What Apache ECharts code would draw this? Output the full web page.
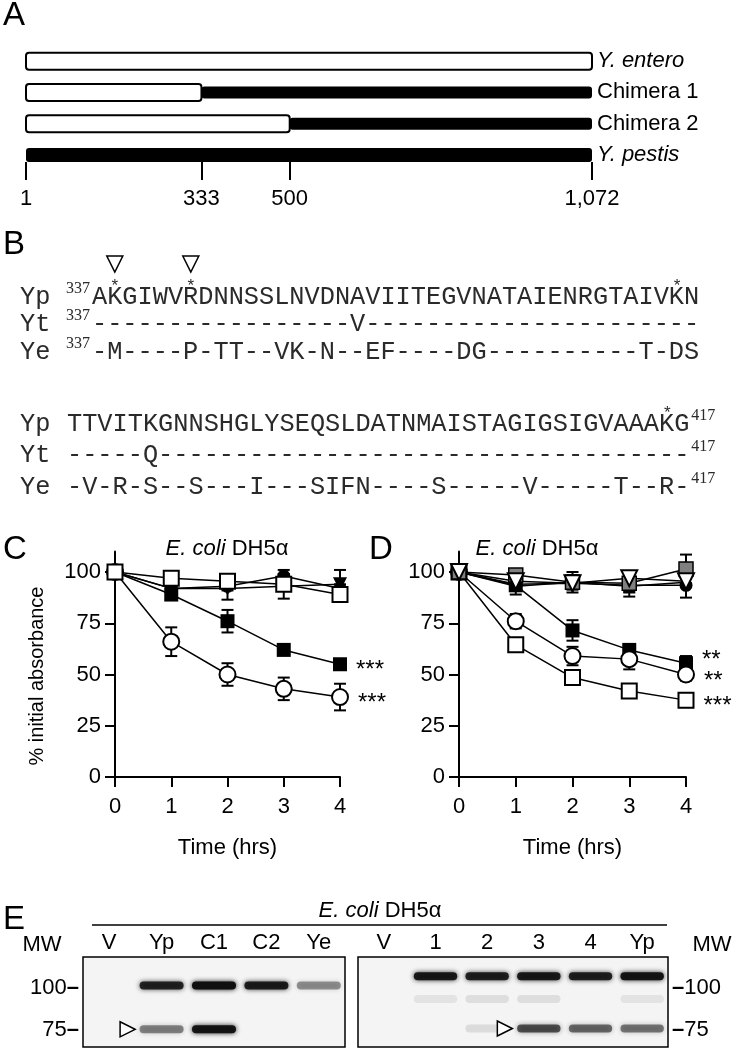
<!DOCTYPE html>
<html>
<head>
<meta charset="utf-8">
<script src="https://cdn.jsdelivr.net/npm/echarts@6/dist/echarts.min.js"></script>
<style>
html, body { margin: 0; padding: 0; background: #fff; }
#main { width: 738px; height: 1050px; }
</style>
</head>
<body>
<div id="main"></div>
<script>
// ---------- A: construct map ----------
var constructs = ['Y. entero', 'Chimera 1', 'Chimera 2', 'Y. pestis'];
var italicNames = ['Y. entero', 'Y. pestis'];
// [construct, first residue, last residue, origin]  origin 0 = Y. entero, 1 = Y. pestis
var segments = [
    ['Y. entero', 1, 1072, 0],
    ['Chimera 1', 333, 1072, 1],
    ['Chimera 1', 1, 333, 0],
    ['Chimera 2', 500, 1072, 1],
    ['Chimera 2', 1, 500, 0],
    ['Y. pestis', 1, 1072, 1]
];
var residueTicks = [1, 333, 500, 1072];

// ---------- B: alignment ----------
var seqNames = ['Yp', 'Yt', 'Ye'];
var block1 = [
    'AKGIWVRDNNSSLNVDNAVIITEGVNATAIENRGTAIVKN',
    '-----------------V----------------------',
    '-M----P-TT--VK-N--EF----DG----------T-DS'
];
var block2 = [
    'TTVITKGNNSHGLYSEQSLDATNMAISTAGIGSIGVAAAKG',
    '-----Q-----------------------------------',
    '-V-R-S--S---I---SIFN----S-----V-----T--R-'
];
var block1Start = 337;
var block2End = 417;
var starsBlock1 = [1, 6, 38];
var starsBlock2 = [39];
var arrowsBlock1 = [1, 6];

// ---------- C / D: absorbance ----------
var hours = [0, 1, 2, 3, 4];
var yTicks = [0, 25, 50, 75, 100];

var cOpenCircle = [100, 66, 50, 43, 39];
var cOpenCircleSem = [0, 7, 5.5, 5.5, 6.5];
var cFilledSquare = [100, 89, 76, 62, 55];
var cFilledSquareSem = [0, 2, 5.5, 1.5, 1.5];
var cOpenSquare = [100, 97, 95.5, 94, 89];
var cOpenSquareSem = [0, 1.5, 1.5, 7, 3];
var cFilledCircle = [100, 92, 93, 98, 92];
var cFilledCircleSem = [0, 1, 2, 1, 2];
var cFilledTriangle = [100, 92, 92, 93, 94];
var cFilledTriangleSem = [0, 2, 5.5, 2, 7];

var dOpenSquare = [100, 64.5, 48.5, 42, 37.5];
var dOpenSquareSem = [0, 1, 1, 1, 1];
var dOpenCircle = [100, 76, 59, 57.5, 50];
var dOpenCircleSem = [0, 3.5, 4.5, 5, 3];
var dFilledSquare = [100, 93.5, 71.5, 62, 55.5];
var dFilledSquareSem = [0, 2, 5, 1.5, 3.5];
var dGraySquare = [100, 98.5, 95, 94.5, 101.5];
var dGraySquareSem = [0, 1.5, 3.5, 4, 7];
var dOpenTriangle = [100, 95.5, 94.5, 97, 95.5];
var dOpenTriangleSem = [0, 2, 2, 3.5, 2];
var dFilledCircle = [100, 94, 94.5, 93.5, 93.5];
var dFilledCircleSem = [0, 2, 3, 5.5, 6];
var dFilledTriangle = [100, 93, 95, 93, 95];
var dFilledTriangleSem = [0, 4, 5, 3, 2];

// ---------- E: western blot ----------
var lanesLeft = ['V', 'Yp', 'C1', 'C2', 'Ye'];
var lanesRight = ['V', '1', '2', '3', '4', 'Yp'];
var mwMarkers = [75, 100];
// [lane, apparent kDa, intensity 0-1]
var bandsLeft = [
    ['Yp', 101.5, 0.85], ['C1', 101.5, 1.0], ['C2', 101.5, 0.9], ['Ye', 101.5, 0.4],
    ['Yp', 75.5, 0.45], ['C1', 75.5, 0.95]
];
var bandsRight = [
    ['1', 107, 0.92], ['2', 107, 0.88], ['3', 107, 0.92], ['4', 107, 0.88], ['Yp', 107, 0.95],
    ['1', 93.5, 0.07], ['2', 93.5, 0.09], ['3', 93.5, 0.09], ['Yp', 93.5, 0.07],
    ['2', 76, 0.1], ['3', 76, 0.65], ['4', 76, 0.55], ['Yp', 76, 0.5]
];
var arrowLeft = [['Yp', 75.5]];
var arrowRight = [['3', 76]];

var FONT = '"Liberation Sans", Arial, sans-serif';
var MONO = '"Liberation Mono", monospace';

var markers = {
    openCircle:     { symbol: 'circle',   size: 16, fill: '#fff', border: 2, rot: 0 },
    filledSquare:   { symbol: 'rect',     size: 14, fill: '#000', border: 0, rot: 0 },
    openSquare:     { symbol: 'rect',     size: 15, fill: '#fff', border: 2, rot: 0 },
    filledCircle:   { symbol: 'circle',   size: 13, fill: '#000', border: 0, rot: 0 },
    filledTriangle: { symbol: 'triangle', size: 14, fill: '#000', border: 0, rot: 180 },
    graySquare:     { symbol: 'rect',     size: 14, fill: '#808080', border: 1.5, rot: 0 },
    openTriangle:   { symbol: 'triangle', size: 16, fill: '#fff', border: 2, rot: 180 }
};

function lineSeries(grid, vals, mk, sig, sigDy) {
    var m = markers[mk];
    var data = hours.map(function (h, i) {
        var item = { value: [h, vals[i]] };
        if (sig && i === hours.length - 1) {
            item.label = {
                show: true, position: 'right', distance: 9, formatter: sig,
                fontSize: 24, color: '#000', fontFamily: FONT, offset: [0, sigDy === undefined ? 6 : sigDy]
            };
        }
        return item;
    });
    return {
        type: 'line', xAxisIndex: grid, yAxisIndex: grid, data: data,
        symbol: m.symbol, symbolSize: m.size, symbolRotate: m.rot,
        showAllSymbols: true, clip: false, silent: true, z: 3,
        lineStyle: { color: '#000', width: 1.5 },
        itemStyle: { color: m.fill, borderColor: '#000', borderWidth: m.border, opacity: 1 }
    };
}

function errData(list) {
    var out = [];
    list.forEach(function (p) {
        hours.forEach(function (h, i) { out.push([h, p[0][i], p[1][i]]); });
    });
    return out;
}

function renderErr(params, api) {
    var e = api.value(2);
    if (!e) return null;
    var x = api.value(0), v = api.value(1);
    var t = api.coord([x, v + e]);
    var b = api.coord([x, v - e]);
    var s = { stroke: '#000', lineWidth: 2 };
    return {
        type: 'group', children: [
            { type: 'line', shape: { x1: t[0], y1: t[1], x2: b[0], y2: b[1] }, style: s },
            { type: 'line', shape: { x1: t[0] - 6, y1: t[1], x2: t[0] + 6, y2: t[1] }, style: s },
            { type: 'line', shape: { x1: b[0] - 6, y1: b[1], x2: b[0] + 6, y2: b[1] }, style: s }
        ]
    };
}

function renderSegment(params, api) {
    var row = api.value(0);
    var from = api.value(1), to = api.value(2), origin = api.value(3);
    var a = api.coord([from, row]);
    var b = api.coord([to, row]);
    var h = origin === 0 ? 17 : (from > 1 ? 12 : 14);
    return {
        type: 'rect', z2: origin === 0 ? 2 : 1,
        shape: { x: a[0], y: a[1] - h / 2, width: b[0] - a[0], height: h, r: 3 },
        style: origin === 0 ? { fill: '#fff', stroke: '#000', lineWidth: 2 } : { fill: '#000' }
    };
}

function renderBand(params, api) {
    var p = api.coord([api.value(0), api.value(1)]);
    var w = api.size([1, 0])[0] * 0.84;
    var k = api.value(2);
    var c = 'rgba(15,15,15,' + k + ')';
    return {
        type: 'rect',
        shape: { x: p[0] - w / 2, y: p[1] - 4, width: w, height: 8, r: 4 },
        style: { fill: c, shadowBlur: 5, shadowColor: c }
    };
}

// ---------- free text ----------
var graphics = [];
function txt(x, y, text, style, extra) {
    graphics.push(Object.assign({
        type: 'text', x: x, y: y, silent: true, z: 10,
        style: Object.assign({ text: text, fill: '#000', font: '22px ' + FONT, align: 'left', verticalAlign: 'middle' }, style || {})
    }, extra || {}));
}
var italicRich = { it: { fontStyle: 'italic', fontSize: 22, fontFamily: FONT } };
var letterFont = '33px ' + FONT;

txt(3, 16, 'A', { font: letterFont });
txt(3, 245, 'B', { font: letterFont });
txt(3, 550, 'C', { font: letterFont });
txt(369, 550, 'D', { font: letterFont });
txt(3, 920, 'E', { font: letterFont });

txt(227, 549, '{it|E. coli} DH5\u03b1', { align: 'center', rich: italicRich });
txt(537, 549, '{it|E. coli} DH5\u03b1', { align: 'center', rich: italicRich });
txt(380, 911, '{it|E. coli} DH5\u03b1', { align: 'center', rich: italicRich });
graphics.push({ type: 'line', silent: true, shape: { x1: 92, y1: 925, x2: 667, y2: 925 }, style: { stroke: '#000', lineWidth: 1.5 } });
txt(42, 945, 'MW', { align: 'center' });
txt(712, 945, 'MW', { align: 'center' });
txt(37, 676, '% initial absorbance', { align: 'center', font: '20px ' + FONT }, { rotation: Math.PI / 2 });

// alignment text
var charW = 15.2;
var monoFont = '25.3px ' + MONO;
var supFont = '16px "Liberation Serif", serif';
var seqColor = '#2a2a2a';
var rowsY1 = [297, 324, 352];
var rowsY2 = [424, 455, 487];
var seq1X = 92, seq2X = 67;
seqNames.forEach(function (n, i) {
    txt(20, rowsY1[i], n, { font: monoFont, fill: seqColor });
    txt(66, rowsY1[i] - 8, String(block1Start), { font: supFont, fill: seqColor });
    txt(seq1X, rowsY1[i], block1[i], { font: monoFont, fill: seqColor });
    txt(20, rowsY2[i], n, { font: monoFont, fill: seqColor });
    txt(seq2X, rowsY2[i], block2[i], { font: monoFont, fill: seqColor });
    txt(seq2X + block2[i].length * charW + 1, rowsY2[i] - 8, String(block2End), { font: supFont, fill: seqColor });
});
starsBlock1.forEach(function (k) {
    txt(seq1X + (k + 0.5) * charW, rowsY1[0] - 11, '*', { font: '17px ' + MONO, align: 'center', fill: seqColor });
});
starsBlock2.forEach(function (k) {
    txt(seq2X + (k + 0.5) * charW, rowsY2[0] - 11, '*', { font: '17px ' + MONO, align: 'center', fill: seqColor });
});
arrowsBlock1.forEach(function (k) {
    var cx = seq1X + (k + 0.5) * charW;
    graphics.push({
        type: 'polygon', silent: true,
        shape: { points: [[cx - 8, 256], [cx + 8, 256], [cx, 272]] },
        style: { fill: '#fff', stroke: '#000', lineWidth: 1.5 }
    });
});

// ---------- chart ----------
var axisBlack = { color: '#000', width: 2 };
var tickFont = { fontSize: 22, color: '#000', fontFamily: FONT };

function absYAxis(grid) {
    return {
        gridIndex: grid, type: 'value', min: 0, max: 110,
        axisLine: { show: true, lineStyle: axisBlack },
        axisTick: { show: true, customValues: yTicks, length: 10, lineStyle: axisBlack },
        axisLabel: Object.assign({ customValues: yTicks, margin: 14 }, tickFont),
        splitLine: { show: false }
    };
}
function timeXAxis(grid) {
    return {
        gridIndex: grid, type: 'value', min: 0, max: 4, interval: 1,
        axisLine: { onZero: false, lineStyle: axisBlack },
        axisTick: { length: 10, lineStyle: axisBlack },
        axisLabel: Object.assign({ margin: 19 }, tickFont),
        splitLine: { show: false },
        name: 'Time (hrs)', nameLocation: 'middle', nameGap: 60,
        nameTextStyle: { fontSize: 22, color: '#000', fontFamily: FONT }
    };
}
function blotYAxis(grid, side) {
    return {
        gridIndex: grid, type: 'value', min: 65, max: 118.5, position: side,
        axisLine: { show: false }, axisTick: { show: false }, splitLine: { show: false },
        axisLabel: Object.assign({
            customValues: mwMarkers, margin: 4,
            formatter: function (v) { return side === 'left' ? v + '{d|\u2013}' : '{d|\u2013}' + v; },
            rich: { d: { fontSize: 22, fontWeight: 'bold', fontFamily: FONT } }
        }, tickFont)
    };
}
function blotXAxis(grid, lanes) {
    return {
        gridIndex: grid, type: 'category', data: lanes, position: 'top',
        axisLine: { show: false }, axisTick: { show: false },
        axisLabel: Object.assign({ margin: 3, interval: 0 }, tickFont)
    };
}
function arrowSeries(grid, pts) {
    return {
        type: 'scatter', xAxisIndex: grid, yAxisIndex: grid, data: pts, silent: true, z: 5,
        symbol: 'triangle', symbolRotate: -90, symbolSize: 15, symbolOffset: [-34, 0],
        itemStyle: { color: '#fff', borderColor: '#000', borderWidth: 1.5, opacity: 1 }
    };
}

var gridBase = { containLabel: false, outerBoundsMode: 'none' };

var option = {
    animation: false,
    backgroundColor: '#fff',
    textStyle: { fontFamily: FONT },
    grid: [
        Object.assign({ left: 26, top: 45.5, width: 566, height: 125 }, gridBase),
        Object.assign({ left: 115, top: 551.5, width: 225, height: 225.5 }, gridBase),
        Object.assign({ left: 459, top: 551.5, width: 227, height: 225.5 }, gridBase),
        Object.assign({ left: 83, top: 957, width: 262, height: 90, show: true, backgroundColor: '#f4f4f4', borderColor: '#000', borderWidth: 1.5 }, gridBase),
        Object.assign({ left: 358, top: 957, width: 310, height: 90, show: true, backgroundColor: '#f4f4f4', borderColor: '#000', borderWidth: 1.5 }, gridBase)
    ],
    xAxis: [
        {
            gridIndex: 0, type: 'value', min: 1, max: 1072, offset: -8.5,
            axisLine: { show: false }, splitLine: { show: false },
            axisTick: { show: true, customValues: residueTicks, length: 18, lineStyle: axisBlack },
            axisLabel: Object.assign({
                customValues: residueTicks, margin: 26,
                formatter: function (v) { return v.toLocaleString('en-US'); }
            }, tickFont)
        },
        timeXAxis(1),
        timeXAxis(2),
        blotXAxis(3, lanesLeft),
        blotXAxis(4, lanesRight)
    ],
    yAxis: [
        {
            gridIndex: 0, type: 'category', data: constructs, inverse: true, position: 'right',
            axisLine: { show: false }, axisTick: { show: false }, splitLine: { show: false },
            axisLabel: Object.assign({
                margin: 5, align: 'left',
                formatter: function (v) { return italicNames.indexOf(v) >= 0 ? '{it|' + v + '}' : v; },
                rich: italicRich
            }, tickFont)
        },
        absYAxis(1),
        absYAxis(2),
        blotYAxis(3, 'left'),
        blotYAxis(4, 'right')
    ],
    graphic: graphics,
    series: [
        {
            type: 'custom', xAxisIndex: 0, yAxisIndex: 0, renderItem: renderSegment,
            data: segments, encode: { x: [1, 2], y: 0 }, silent: true, clip: false
        },
        // C
        {
            type: 'custom', xAxisIndex: 1, yAxisIndex: 1, renderItem: renderErr, silent: true, z: 2, clip: false,
            encode: { x: 0, y: 1 },
            data: errData([[cOpenCircle, cOpenCircleSem], [cFilledSquare, cFilledSquareSem], [cOpenSquare, cOpenSquareSem],
                [cFilledCircle, cFilledCircleSem], [cFilledTriangle, cFilledTriangleSem]])
        },
        lineSeries(1, cFilledCircle, 'filledCircle'),
        lineSeries(1, cFilledTriangle, 'filledTriangle'),
        lineSeries(1, cFilledSquare, 'filledSquare', '***'),
        lineSeries(1, cOpenCircle, 'openCircle', '***'),
        lineSeries(1, cOpenSquare, 'openSquare'),
        // D
        {
            type: 'custom', xAxisIndex: 2, yAxisIndex: 2, renderItem: renderErr, silent: true, z: 2, clip: false,
            encode: { x: 0, y: 1 },
            data: errData([[dOpenSquare, dOpenSquareSem], [dOpenCircle, dOpenCircleSem], [dFilledSquare, dFilledSquareSem],
                [dGraySquare, dGraySquareSem], [dOpenTriangle, dOpenTriangleSem], [dFilledCircle, dFilledCircleSem],
                [dFilledTriangle, dFilledTriangleSem]])
        },
        lineSeries(2, dFilledCircle, 'filledCircle'),
        lineSeries(2, dFilledTriangle, 'filledTriangle'),
        lineSeries(2, dFilledSquare, 'filledSquare', '**', -3),
        lineSeries(2, dOpenCircle, 'openCircle', '**', 7),
        lineSeries(2, dOpenSquare, 'openSquare', '***'),
        lineSeries(2, dGraySquare, 'graySquare'),
        lineSeries(2, dOpenTriangle, 'openTriangle'),
        // E
        {
            type: 'custom', xAxisIndex: 3, yAxisIndex: 3, renderItem: renderBand,
            data: bandsLeft, encode: { x: 0, y: 1 }, silent: true
        },
        {
            type: 'custom', xAxisIndex: 4, yAxisIndex: 4, renderItem: renderBand,
            data: bandsRight, encode: { x: 0, y: 1 }, silent: true
        },
        arrowSeries(3, arrowLeft),
        arrowSeries(4, arrowRight)
    ]
};

var chart = echarts.init(document.getElementById('main'));
chart.setOption(option);
</script>
</body>
</html>
